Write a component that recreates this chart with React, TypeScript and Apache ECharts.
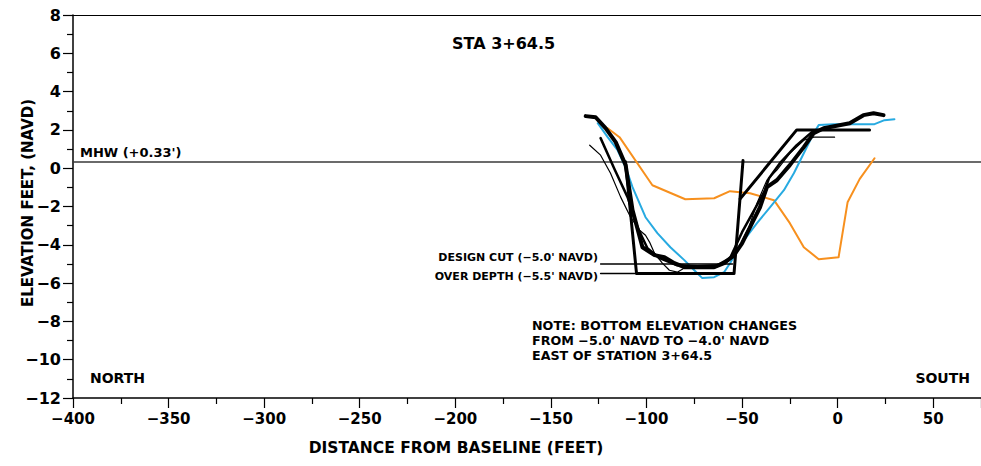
import React, { useEffect, useRef } from 'react';
import * as echarts from 'echarts';

// ---- Data (feet, NAVD) ----
const xTickLabels = [-400, -350, -300, -250, -200, -150, -100, -50, 0, 50];
const yTickLabels = [-12, -10, -8, -6, -4, -2, 0, 2, 4, 6, 8];
const mhwElevation = 0.33;

const surveyThick = [[-131.8,2.72],[-126.6,2.66],[-121.4,2.09],[-116.1,1.36],[-110.9,0.16],[-107.3,-2.19],[-102.1,-4.13],[-95.8,-4.54],[-90.6,-4.65],[-85.4,-4.96],[-80.2,-5.17],[-73.4,-5.17],[-64.6,-5.17],[-59.4,-4.96],[-54.2,-4.54],[-50,-3.92],[-45.8,-3.08],[-40.6,-2.04],[-37,-0.99],[-31.8,-0.63],[-25,0.16],[-17.7,1.1],[-12.5,1.83],[-7.3,2.09],[6.3,2.35],[13.5,2.77],[18.8,2.87],[24,2.77]];

const surveyMedium = [[-124,1.57],[-116.7,-0.05],[-109.9,-1.51],[-104.7,-3.08],[-99.5,-4.18],[-93.2,-4.7],[-83.9,-5.07],[-73.4,-5.12],[-63,-5.07],[-56.3,-4.7],[-50,-3.34],[-42.2,-1.93],[-38,-1.15],[-35.9,-0.52],[-30.2,0.26],[-21.4,1.2],[-13.5,1.88],[-5.7,2.09]];

const surveyThin = [[-129.7,1.2],[-124,0.68],[-118.8,-0.26],[-113.5,-1.51],[-108.3,-2.56],[-103.6,-3.24],[-100.5,-3.5],[-98.4,-3.86],[-95.8,-4.44],[-91.7,-4.96],[-88,-5.33],[-83.9,-5.43],[-78.6,-5.12],[-70.8,-5.12],[-64.1,-5.2],[-59.4,-4.96],[-54.2,-4.65],[-46.4,-3.08],[-42.2,-1.83],[-37,-0.63],[-31.8,-0.1],[-25,0.78],[-17.7,1.46],[-12.5,1.62],[-1.6,1.62]];

const surveyBlue = [[-125.5,2.35],[-120.3,1.62],[-115.1,0.94],[-110.9,0.05],[-107.3,-0.99],[-100.5,-2.56],[-94.3,-3.39],[-87.5,-4.13],[-80.2,-4.8],[-75,-5.33],[-70.8,-5.74],[-64.6,-5.69],[-59.4,-5.43],[-56.3,-4.96],[-49,-3.76],[-42.2,-2.87],[-35.4,-2.04],[-28.1,-1.15],[-22.9,-0.26],[-17.7,0.78],[-12.5,1.83],[-9.9,2.25],[-2.1,2.3],[9.9,2.3],[19.3,2.3],[24.5,2.51],[29.7,2.56]];

const surveyOrange = [[-120.3,2.09],[-114.1,1.62],[-96.9,-0.89],[-79.7,-1.62],[-64.6,-1.57],[-56.3,-1.2],[-45.8,-1.31],[-33.3,-1.67],[-25,-2.87],[-17.7,-4.13],[-9.9,-4.75],[0.5,-4.65],[5.2,-1.78],[11.5,-0.57],[19.3,0.52]];

const designSlope = [[-51,-1.6],[-21.4,2.0],[16.7,2.0]];
const designCut = [[-124,-5.0],[-55,-5.0]];
const overDepth = [[-111,0.33],[-105.2,-5.5],[-54.2,-5.5],[-49.5,0.4]];
const overDepthLeader = [[-124,-5.5],[-105.2,-5.5]];

const FONT = 'DejaVu Sans';
const minus = (v: number) => String(v).replace('-', '\u2212');

function lineSeries(name: string, data: number[][], color: string, width: number, z: number) {
  return {
    type: 'line',
    name,
    data,
    symbol: 'none',
    showSymbol: false,
    silent: true,
    z,
    lineStyle: { color, width, cap: 'round', join: 'round' },
  };
}

function txt(text: string, x: number, y: number, size: number, align = 'left', rotation = 0) {
  return {
    type: 'text',
    x,
    y,
    rotation,
    silent: true,
    style: {
      text,
      fill: '#000',
      font: `bold ${size}px "${FONT}"`,
      align,
      verticalAlign: 'middle',
    },
  };
}

export default function App() {
  const ref = useRef<HTMLDivElement>(null);
  useEffect(() => {
    const chart = echarts.init(ref.current!, null, { renderer: 'svg' });
    const axisCommon = { color: '#000', fontFamily: FONT, fontWeight: 'bold', fontSize: 15 };
    chart.setOption({
      animation: false,
      backgroundColor: '#fff',
      grid: { left: 73, right: -4, top: 15, bottom: 68 },
      xAxis: [
        {
          type: 'value',
          min: -400,
          max: 75,
          interval: 50,
          axisLine: { show: true, onZero: false, lineStyle: { color: '#000', width: 1.5 } },
          axisTick: { show: true, length: 10, lineStyle: { color: '#000', width: 1.2 } },
          minorTick: { show: true, splitNumber: 2, length: 6, lineStyle: { color: '#000', width: 1.2 } },
          splitLine: { show: false },
          axisLabel: {
            ...axisCommon,
            margin: 13,
            showMaxLabel: false,
            formatter: (v: number) => (xTickLabels.includes(v) ? minus(v) : ''),
          },
        },
        {
          type: 'value',
          position: 'top',
          min: -400,
          max: 75,
          axisLine: { show: true, onZero: false, lineStyle: { color: '#000', width: 1.2 } },
          axisTick: { show: false },
          axisLabel: { show: false },
          splitLine: { show: false },
        },
      ],
      yAxis: {
        type: 'value',
        min: -12,
        max: 8,
        interval: 2,
        axisLine: { show: true, onZero: false, lineStyle: { color: '#000', width: 1.5 } },
        axisTick: { show: true, length: 10, lineStyle: { color: '#000', width: 1.2 } },
        minorTick: { show: true, splitNumber: 2, length: 6, lineStyle: { color: '#000', width: 1.2 } },
        splitLine: { show: false },
        axisLabel: {
          ...axisCommon,
          fontSize: 16,
          margin: 12,
          formatter: (v: number) => (yTickLabels.includes(v) ? minus(v) : ''),
        },
      },
      series: [
        lineSeries('MHW', [[-400, mhwElevation], [75, mhwElevation]], '#3a3a3a', 1.5, 1),
        lineSeries('Survey orange', surveyOrange, '#f7901e', 2, 2),
        lineSeries('Survey blue', surveyBlue, '#27aae1', 2, 3),
        lineSeries('Survey thin', surveyThin, '#000', 1.2, 4),
        lineSeries('Survey medium', surveyMedium, '#000', 2.5, 5),
        lineSeries('Survey thick', surveyThick, '#000', 4, 6),
        lineSeries('Design slope', designSlope, '#000', 3, 7),
        lineSeries('Design cut', designCut, '#000', 1.5, 7),
        lineSeries('Over depth', overDepth, '#000', 3, 7),
        lineSeries('Over depth leader', overDepthLeader, '#000', 1.5, 7),
      ],
      graphic: [
        txt('STA 3+64.5', 452, 43, 16),
        txt("MHW (+0.33')", 80, 152, 13),
        txt('NORTH', 90, 378, 14),
        txt('SOUTH', 970, 378, 14, 'right'),
        txt("DESIGN CUT (\u22125.0' NAVD)", 598, 257, 11, 'right'),
        txt("OVER DEPTH (\u22125.5' NAVD)", 598, 276, 11, 'right'),
        txt('NOTE: BOTTOM ELEVATION CHANGES', 532, 325, 12.7),
        txt("FROM \u22125.0' NAVD TO \u22124.0' NAVD", 532, 340, 12.7),
        txt('EAST OF STATION 3+64.5', 532, 355, 12.7),
        txt('DISTANCE FROM BASELINE (FEET)', 456, 448, 15.5, 'center'),
        txt('ELEVATION FEET, (NAVD)', 28, 203, 15, 'center', Math.PI / 2),
      ],
    });
    return () => chart.dispose();
  }, []);
  return <div ref={ref} style={{ position: 'absolute', left: 0, top: 0, width: 981, height: 466 }} />;
}
